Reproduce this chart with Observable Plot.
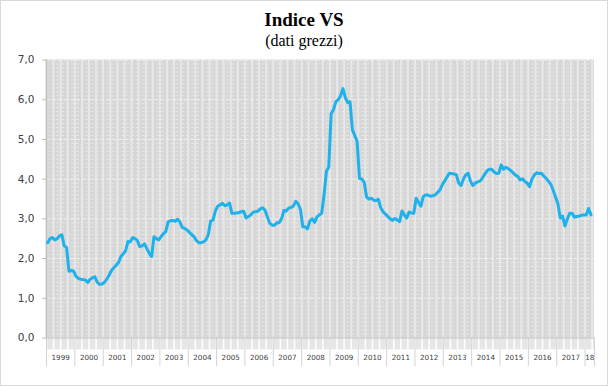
<!DOCTYPE html>
<html>
<head>
<meta charset="utf-8">
<script src="https://cdn.jsdelivr.net/npm/d3@7"></script>
<script src="https://cdn.jsdelivr.net/npm/@observablehq/plot@0.6"></script>
<style>
  html, body { margin: 0; padding: 0; background: #fff; }
  #wrap { position: relative; width: 608px; height: 386px; overflow: hidden; }
  #wrap::after { content: ""; position: absolute; inset: 0; border: 1px solid #d9d9d9; pointer-events: none; }
  #title { position: absolute; left: 0; width: 608px; top: 9px; text-align: center;
           font: bold 19px "Liberation Serif", serif; color: #000; line-height: 22px; }
  #subtitle { position: absolute; left: 0; width: 608px; top: 32px; text-align: center;
              font: 16px "Liberation Serif", serif; color: #000; line-height: 18px; }
  #chart { position: absolute; left: 0; top: 0; }
</style>
</head>
<body>
<div id="wrap">
  <div id="chart"></div>
  <div id="title">Indice VS</div>
  <div id="subtitle">(dati grezzi)</div>
</div>
<script>
// Monthly values, Jan 1999 – Mar 2018
const startYear = 1999;
const values = [
  // 1999
  2.40, 2.50, 2.53, 2.47, 2.50, 2.57, 2.60, 2.32, 2.28, 1.68, 1.70, 1.68,
  // 2000
  1.55, 1.50, 1.48, 1.47, 1.46, 1.40, 1.48, 1.52, 1.54, 1.40, 1.35, 1.36,
  // 2001
  1.40, 1.48, 1.58, 1.70, 1.77, 1.83, 1.90, 2.05, 2.12, 2.20, 2.43, 2.42,
  // 2002
  2.53, 2.50, 2.45, 2.30, 2.32, 2.37, 2.25, 2.13, 2.05, 2.55, 2.50, 2.47,
  // 2003
  2.55, 2.63, 2.68, 2.93, 2.95, 2.96, 2.94, 2.99, 2.92, 2.78, 2.76, 2.72,
  // 2004
  2.66, 2.60, 2.55, 2.45, 2.40, 2.40, 2.42, 2.47, 2.60, 2.95, 2.97, 3.20,
  // 2005
  3.32, 3.35, 3.39, 3.33, 3.35, 3.40, 3.14, 3.14, 3.15, 3.16, 3.18, 3.19,
  // 2006
  3.02, 3.06, 3.10, 3.17, 3.18, 3.19, 3.25, 3.28, 3.22, 3.05, 2.89, 2.84,
  // 2007
  2.84, 2.90, 2.90, 3.00, 3.21, 3.20, 3.27, 3.29, 3.32, 3.44, 3.38, 3.24,
  // 2008
  2.80, 2.80, 2.75, 2.95, 3.00, 2.91, 3.05, 3.10, 3.14, 3.60, 4.20, 4.30,
  // 2009
  5.65, 5.75, 5.95, 6.00, 6.10, 6.28, 6.05, 5.93, 5.95, 5.24, 5.10, 4.95,
  // 2010
  4.02, 4.00, 3.92, 3.55, 3.50, 3.52, 3.47, 3.46, 3.49, 3.28, 3.18, 3.12,
  // 2011
  3.06, 3.00, 2.96, 3.01, 2.97, 2.93, 3.20, 3.10, 3.02, 3.17, 3.15, 3.14,
  // 2012
  3.52, 3.42, 3.32, 3.56, 3.60, 3.60, 3.57, 3.58, 3.60, 3.66, 3.72, 3.85,
  // 2013
  3.95, 4.05, 4.15, 4.14, 4.13, 4.11, 3.90, 3.84, 4.00, 4.11, 4.15, 3.95,
  // 2014
  3.84, 3.90, 3.93, 3.95, 4.02, 4.12, 4.21, 4.25, 4.25, 4.18, 4.14, 4.15,
  // 2015
  4.36, 4.25, 4.30, 4.26, 4.22, 4.16, 4.10, 4.07, 3.98, 4.01, 3.94, 3.90,
  // 2016
  3.81, 4.00, 4.10, 4.16, 4.14, 4.15, 4.08, 4.02, 3.95, 3.87, 3.72, 3.55,
  // 2017
  3.38, 3.02, 3.07, 2.82, 3.00, 3.14, 3.14, 3.04, 3.06, 3.07, 3.09, 3.10,
  // 2018
  3.10, 3.26, 3.10
];
const yearLabels = ["1999","2000","2001","2002","2003","2004","2005","2006","2007","2008",
                    "2009","2010","2011","2012","2013","2014","2015","2016","2017","18"];
const yTicks = [0, 1, 2, 3, 4, 5, 6, 7];

const endT = startYear + 19 + 4 / 12; // axis runs to Apr 2018
const data = values.map((v, i) => ({ t: startYear + (i + 0.5) / 12, v }));
const years = yearLabels.map((lab, i) => {
  const a = startYear + i;
  const b = Math.min(a + 1, endT);
  return { a, b, mid: (a + b) / 2, lab };
});
const quarters = d3.range(startYear, endT + 1e-6, 0.25);
const minorY = d3.range(0, 7.001, 0.1).map(d => +d.toFixed(1));
const fmt = d => d.toFixed(1).replace(".", ",");

const chart = Plot.plot({
  width: 608,
  height: 386,
  marginLeft: 46,
  marginRight: 14,
  marginTop: 59.5,
  marginBottom: 48.5,
  style: { background: "transparent", overflow: "visible" },
  x: { domain: [startYear, endT], axis: null },
  y: { domain: [0, 7], axis: null },
  marks: [
    // plot area background
    Plot.rect([0], { x1: startYear, x2: endT, y1: 0, y2: 7, fill: "#d6d6d6" }),
    // vertical quarter stripes
    Plot.ruleX(quarters, { y1: 0, y2: 7, stroke: "#e8e8e8", strokeWidth: 2 }),
    // horizontal minor gridlines
    Plot.ruleY(minorY, { x1: startYear, x2: endT, stroke: "#e6e6e6", strokeWidth: 1, strokeDasharray: "3,2" }),
    Plot.ruleY(yTicks, { x1: startYear, x2: endT, stroke: "#efefef", strokeWidth: 1, strokeDasharray: "4,2" }),
    // band beneath axis
    Plot.rect([0], { x1: startYear, x2: endT, y1: -0.3, y2: 0, fill: "#e6e6e6" }),
    Plot.ruleX(quarters, { y1: -0.3, y2: 0, stroke: "#ffffff", strokeWidth: 1.5 }),
    Plot.ruleX(years.map(d => d.a).concat([endT]), { y1: -0.72, y2: 0, stroke: "#d4d4d4", strokeWidth: 1 }),
    // axis lines
    Plot.ruleX([startYear], { y1: 0, y2: 7, stroke: "#bfbfbf", strokeWidth: 1.5 }),
    Plot.ruleY([0], { x1: startYear, x2: endT, stroke: "#bfbfbf", strokeWidth: 1 }),
    // y axis
    Plot.axisY(yTicks, {
      label: null, tickFormat: fmt, tickSize: 4, tickPadding: 8, stroke: "#bfbfbf",
      fontSize: 10.5, fontFamily: "DejaVu Sans", color: "#404040"
    }),
    // year labels
    Plot.text(years, {
      x: "mid", y: -0.5, text: "lab", fontSize: 7.2, fontFamily: "DejaVu Sans",
      fill: "#404040", textAnchor: "middle"
    }),
    // series
    Plot.line(data, {
      x: "t", y: "v", stroke: "#1fb1ea", strokeWidth: 3,
      strokeLinejoin: "round", strokeLinecap: "round"
    })
  ]
});
document.getElementById("chart").appendChild(chart);
</script>
</body>
</html>
